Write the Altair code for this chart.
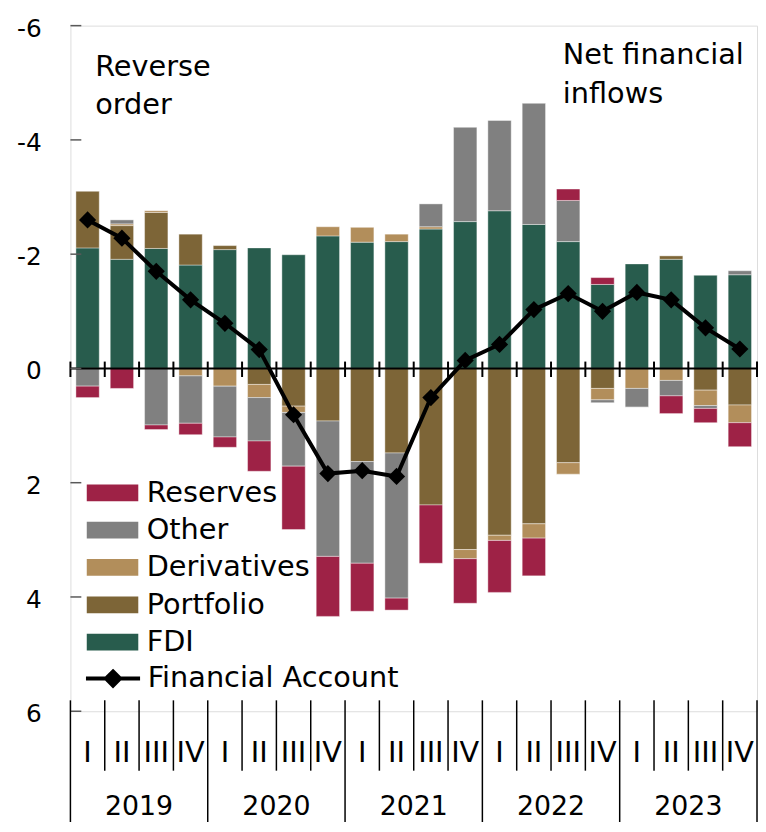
import altair as alt
import pandas as pd

FONT = "DejaVu Sans"

quarter_labels = ["I", "II", "III", "IV"] * 5
year_labels = ["2019", "2020", "2021", "2022", "2023"]

series_names = ["FDI", "Portfolio", "Derivatives", "Other", "Reserves"]
legend_order = ["Reserves", "Other", "Derivatives", "Portfolio", "FDI"]
legend_colors = ["#9E2246", "#808080", "#B28E5B", "#7D6537", "#285C4D"]

fdi = [-2.11, -1.91, -2.10, -1.81, -2.08, -2.11, -1.99, -2.32, -2.21, -2.22,
       -2.44, -2.57, -2.76, -2.52, -2.22, -1.47, -1.83, -1.91, -1.63, -1.64]
portfolio = [-0.99, -0.59, -0.63, -0.54, -0.07, 0.28, 0.66, 0.92, 1.63, 1.48,
             2.39, 3.17, 2.92, 2.72, 1.65, 0.35, 0.0, -0.06, 0.38, 0.64]
derivatives = [0.0, -0.03, -0.03, 0.13, 0.31, 0.23, 0.11, -0.16, -0.26, -0.13,
               -0.04, 0.16, 0.09, 0.25, 0.20, 0.20, 0.35, 0.21, 0.27, 0.31]
other = [0.31, -0.07, 0.99, 0.83, 0.89, 0.76, 0.94, 2.37, 1.78, 2.54,
         -0.40, -1.65, -1.58, -2.12, -0.72, 0.05, 0.33, 0.27, 0.05, -0.07]
reserves = [0.20, 0.35, 0.08, 0.20, 0.18, 0.53, 1.11, 1.05, 0.84, 0.21,
            1.02, 0.78, 0.91, 0.66, -0.20, -0.12, 0.0, 0.31, 0.25, 0.42]
financial_account = [-2.60, -2.28, -1.70, -1.20, -0.79, -0.33, 0.81, 1.84, 1.79, 1.89,
                     0.51, -0.14, -0.42, -1.03, -1.31, -1.00, -1.33, -1.20, -0.71, -0.34]

y_ticks = [-6, -4, -2, 0, 2, 4, 6]
y_tick_labels = ["-6", "-4", "-2", "0", "2", "4", "6"]
annotations = ["Reverse\norder", "Net financial\ninflows"]

n = len(fdi)
series_values = [fdi, portfolio, derivatives, other, reserves]

rows = []
for i in range(n):
    for k, (name, vals) in enumerate(zip(series_names, series_values)):
        rows.append({"i": i, "x0": i + 0.16, "x1": i + 0.84, "series": name,
                     "order": k, "value": vals[i]})
bar_df = pd.DataFrame(rows)

line_df = pd.DataFrame({"xc": [i + 0.5 for i in range(n)], "fa": financial_account,
                        "name": ["Financial Account"] * n})

bound_df = pd.DataFrame({"b": list(range(n + 1))})
bound_df["year_edge"] = bound_df["b"] % 4 == 0
qlab_df = pd.DataFrame({"xc": [i + 0.5 for i in range(n)], "q": quarter_labels})
ylab_df = pd.DataFrame({"xc": [4 * j + 2 for j in range(len(year_labels))], "yr": year_labels})
ytick_df = pd.DataFrame({"v": y_ticks, "lab": y_tick_labels})
zero_df = pd.DataFrame({"z": [0]})

xscale = alt.Scale(domain=[0, n], nice=False, zero=False)
yscale = alt.Scale(domain=[-6, 6], reverse=True, nice=False, zero=False)

bars = alt.Chart(bar_df).transform_stack(
    stack="value", groupby=["i"], as_=["y0", "y1"],
    sort=[alt.SortField(field="order", order="ascending")], offset="zero"
).mark_bar(stroke="white", strokeWidth=0.8, strokeOpacity=0.5).encode(
    x=alt.X("x0:Q", scale=xscale, axis=None),
    x2="x1:Q",
    y=alt.Y("y0:Q", scale=yscale, axis=alt.Axis(
        values=y_ticks, title=None, ticks=False, labels=False,
        grid=False, domainColor="#595959", domainWidth=1.5)),
    y2="y1:Q",
    fill=alt.Fill("series:N", scale=alt.Scale(domain=legend_order, range=legend_colors),
                  legend=alt.Legend(orient="none", legendX=28, legendY=457, title=None,
                                    symbolType="M-2,-0.65H2V0.65H-2Z", symbolSize=676,
                                    symbolStrokeWidth=0, symbolOpacity=1,
                                    labelFont=FONT, labelFontSize=29, labelColor="black",
                                    labelLimit=500,
                                    rowPadding=7.7, labelOffset=20, padding=0)),
)

zero_line = alt.Chart(zero_df).mark_rule(color="black", strokeWidth=2).encode(
    y=alt.Y("z:Q", scale=yscale, axis=None), x=alt.value(0), x2=alt.value(693))

zero_ticks = alt.Chart(bound_df).transform_calculate(up="-0.12", dn="0.15").mark_rule(
    color="black", strokeWidth=2).encode(
    x=alt.X("b:Q", scale=xscale, axis=None),
    y=alt.Y("up:Q", scale=yscale, axis=None), y2="dn:Q")

y_tick_marks = alt.Chart(ytick_df).mark_rule(color="#595959", strokeWidth=1.5).encode(
    y=alt.Y("v:Q", scale=yscale, axis=None), x=alt.value(0), x2=alt.value(11))

y_tick_text = alt.Chart(ytick_df).mark_text(font=FONT, fontSize=25, color="black",
                                            align="right", baseline="middle", dy=3).encode(
    y=alt.Y("v:Q", scale=yscale, axis=None), x=alt.value(-29), text="lab:N")

q_sep = alt.Chart(bound_df).transform_filter("!datum.year_edge").mark_rule(
    color="black", strokeWidth=1.5).encode(
    x=alt.X("b:Q", scale=xscale, axis=None), y=alt.value(681), y2=alt.value(752))

y_sep = alt.Chart(bound_df).transform_filter("datum.year_edge").mark_rule(
    color="black", strokeWidth=1.5).encode(
    x=alt.X("b:Q", scale=xscale, axis=None), y=alt.value(681), y2=alt.value(816))

q_text = alt.Chart(qlab_df).mark_text(font=FONT, fontSize=29, color="black",
                                      baseline="middle", align="center").encode(
    x=alt.X("xc:Q", scale=xscale, axis=None), y=alt.value(734), text="q:N")

y_text = alt.Chart(ylab_df).mark_text(font=FONT, fontSize=27, color="black",
                                      baseline="middle", align="center").encode(
    x=alt.X("xc:Q", scale=xscale, axis=None), y=alt.value(789), text="yr:N")

line = alt.Chart(line_df).mark_line(strokeWidth=4).encode(
    x=alt.X("xc:Q", scale=xscale, axis=None),
    y=alt.Y("fa:Q", scale=yscale, axis=None),
    stroke=alt.Stroke("name:N", scale=alt.Scale(domain=["Financial Account"], range=["black"]),
                      legend=alt.Legend(orient="none", legendX=28, legendY=644, title=None,
                                        symbolType="M-2.1,0H2.1M0,-0.55L0.55,0L0,0.55L-0.55,0Z",
                                        symbolSize=676, symbolStrokeWidth=4,
                                        symbolFillColor="black", symbolStrokeColor="black",
                                        labelFont=FONT, labelFontSize=29, labelColor="black",
                                        labelLimit=500,
                                        labelOffset=20, padding=0)),
)

points = alt.Chart(line_df).mark_point(shape="diamond", filled=True, size=300,
                                       color="black", opacity=1).encode(
    x=alt.X("xc:Q", scale=xscale, axis=None),
    y=alt.Y("fa:Q", scale=yscale, axis=None))

ann1 = alt.Chart(pd.DataFrame({"t": [annotations[0]]})).mark_text(
    font=FONT, fontSize=29, color="black", align="left", baseline="alphabetic",
    lineBreak="\n", lineHeight=38).encode(x=alt.value(25), y=alt.value(51), text="t:N")
ann2 = alt.Chart(pd.DataFrame({"t": [annotations[1]]})).mark_text(
    font=FONT, fontSize=29, color="black", align="left", baseline="alphabetic",
    lineBreak="\n", lineHeight=39).encode(x=alt.value(497), y=alt.value(39), text="t:N")

chart = alt.layer(bars, zero_line, zero_ticks, y_tick_marks, y_tick_text, q_sep, y_sep,
                  q_text, y_text, line, points, ann1, ann2).properties(
    width=693, height=692,
    autosize=alt.AutoSizeParams(type="none"),
    padding={"left": 63, "top": 14, "right": 1, "bottom": 108},
).configure_view(stroke=None).configure(background="white")

chart.save("out.html", embed_options={"renderer": "svg", "actions": False})
